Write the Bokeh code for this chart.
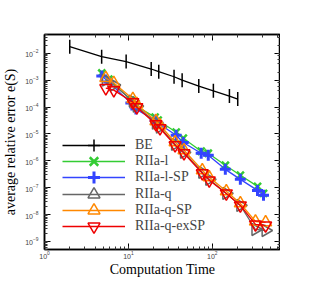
import math
from bokeh.plotting import figure
from bokeh.models import LogAxis, Legend, LegendItem, CustomJSTickFormatter
from bokeh.embed import file_html
from bokeh.resources import INLINE

# ---- data ----
be_x = [2.0, 4.8, 9.4, 18.7, 23, 35, 43.7, 69, 103, 160, 201]
be_y = [1.76e-2, 7.5e-3, 4.9e-3, 2.6e-3, 2.06e-3, 1.34e-3, 1.0e-3, 6.0e-4, 4.0e-4, 2.55e-4, 1.97e-4]

l_x = [4.82, 5.84, 10.7, 12.3, 20.8, 22.6, 37.1, 45.1, 73.7, 89.5, 143, 216, 346, 408]
l_y = [1.84e-3, 1.10e-3, 1.81e-4, 1.08e-4, 4.2e-5, 3.24e-5, 1.16e-5, 6.9e-6, 2.26e-6, 1.9e-6, 6.8e-7, 2.9e-7, 1.12e-7, 6.1e-8]
lsp_y = [1.42e-3, 8.5e-4, 1.40e-4, 8.4e-5, 3.24e-5, 2.5e-5, 8.9e-6, 4.8e-6, 1.9e-6, 1.6e-6, 4.8e-7, 2.04e-7, 7.9e-8, 5.2e-8]

q_x = [5.38, 6.7, 11.3, 12.6, 21.3, 23.8, 36, 46, 76, 92, 147, 216, 327, 432]
q_y = [1.01e-3, 6.6e-4, 1.66e-4, 1.08e-4, 2.5e-5, 1.78e-5, 4.1e-6, 2.07e-6, 3.72e-7, 2.04e-7, 6.1e-8, 2.19e-8, 2.78e-9, 2.55e-9]
qsp_y = [1.20e-3, 7.8e-4, 1.97e-4, 1.28e-4, 2.98e-5, 2.11e-5, 4.9e-6, 2.47e-6, 4.43e-7, 2.42e-7, 7.3e-8, 2.6e-8, 5.5e-9, 5.1e-9]
qex_y = [5.07e-4, 4.27e-4, 1.52e-4, 9.9e-5, 2.30e-5, 1.63e-5, 3.79e-6, 1.9e-6, 3.42e-7, 1.87e-7, 6.1e-8, 2.19e-8, 4.28e-9, 3.92e-9]

labels = ["BE", "RIIa-l", "RIIa-l-SP", "RIIa-q", "RIIa-q-SP", "RIIa-q-exSP"]

SERIF = "Liberation Serif"

p = figure(frame_width=236, frame_height=215, x_axis_type="log", y_axis_type="log",
           x_range=(1, 650), y_range=(5e-10, 5e-2),
           output_backend="svg", toolbar_location=None,
           min_border_left=42, min_border_right=0, min_border_top=34, min_border_bottom=0)
p.grid.visible = False
p.outline_line_color = "black"
p.outline_line_width = 1.5
p.background_fill_color = "white"

bottom = p.below[0]
left = p.left[0]
bottom.axis_label = "Computation Time"
left.axis_label = "average relative error e(S)"

top = LogAxis(formatter=CustomJSTickFormatter(code="return ''"))
right = LogAxis(formatter=CustomJSTickFormatter(code="return ''"))
p.add_layout(top, "above")
p.add_layout(right, "right")

for ax in [bottom, left, top, right]:
    ax.axis_line_color = "black"
    ax.axis_line_width = 1.5
    ax.major_tick_in = 6
    ax.major_tick_out = 0
    ax.minor_tick_in = 3
    ax.minor_tick_out = 0
    ax.major_tick_line_color = "black"
    ax.minor_tick_line_color = "#333333"
    ax.major_label_text_font_size = "7px"
    ax.major_label_text_color = "#444444"
    ax.major_label_standoff = 2
    ax.axis_label_text_font = SERIF
    ax.axis_label_text_font_style = "normal"
    ax.axis_label_text_font_size = "14px"
    ax.axis_label_text_color = "black"
    ax.axis_label_standoff = 2
bottom.major_label_standoff = 1
bottom.axis_label_standoff = 0
left.major_label_standoff = 6
left.axis_label_standoff = 4
top.major_label_text_font_size = "0px"
right.major_label_text_font_size = "0px"
top.major_label_standoff = 0
right.major_label_standoff = 0

items = []
# BE
r1 = p.line(be_x, be_y, line_color="black", line_width=1.3)
p.scatter(be_x, be_y, marker="dash", angle=math.pi / 2, size=14, line_color="black", line_width=1.5)
r2 = p.scatter(be_x, be_y, marker="cross", size=0, line_color="black", line_width=1.5)
items.append(LegendItem(label=labels[0], renderers=[r1, r2]))

green = "#33cc33"
r1 = p.line(l_x, l_y, line_color=green, line_width=1.3)
r2 = p.scatter(l_x, l_y, marker="x", size=10, line_color=green, line_width=2.5)
items.append(LegendItem(label=labels[1], renderers=[r1, r2]))

blue = "#3344ff"
r1 = p.line(l_x, lsp_y, line_color=blue, line_width=1.3)
r2 = p.scatter(l_x, lsp_y, marker="cross", size=11, line_color=blue, line_width=3)
items.append(LegendItem(label=labels[2], renderers=[r1, r2]))

grey = "#666666"
r1 = p.line(q_x, q_y, line_color=grey, line_width=1.3)
r2 = p.scatter(q_x, q_y, marker="triangle", angle=-math.pi / 2, size=12, line_color=grey,
               fill_color=None, line_width=1.5)
items.append(LegendItem(label=labels[3], renderers=[r1, r2]))

orange = "#ff8800"
r1 = p.line(q_x, qsp_y, line_color=orange, line_width=1.3)
r2 = p.scatter(q_x, qsp_y, marker="triangle", size=12, line_color=orange,
               fill_color=None, line_width=1.5)
items.append(LegendItem(label=labels[4], renderers=[r1, r2]))

red = "#ee0000"
r1 = p.line(q_x, qex_y, line_color=red, line_width=1.3)
r2 = p.scatter(q_x, qex_y, marker="inverted_triangle", size=12, line_color=red,
               fill_color=None, line_width=1.5)
items.append(LegendItem(label=labels[5], renderers=[r1, r2]))

n = len(items)
for k, it in enumerate(items):
    lg = Legend(items=[it], location=(18, 8 + (n - 1 - k) * 16.2), orientation="vertical",
                glyph_width=63, glyph_height=30, label_height=30, spacing=0,
                padding=0, margin=0, label_standoff=10,
                label_text_font=SERIF, label_text_font_size="14px",
                border_line_color=None, background_fill_alpha=0)
    p.add_layout(lg, "center")

open("out.html", "w").write(file_html(p, INLINE))
